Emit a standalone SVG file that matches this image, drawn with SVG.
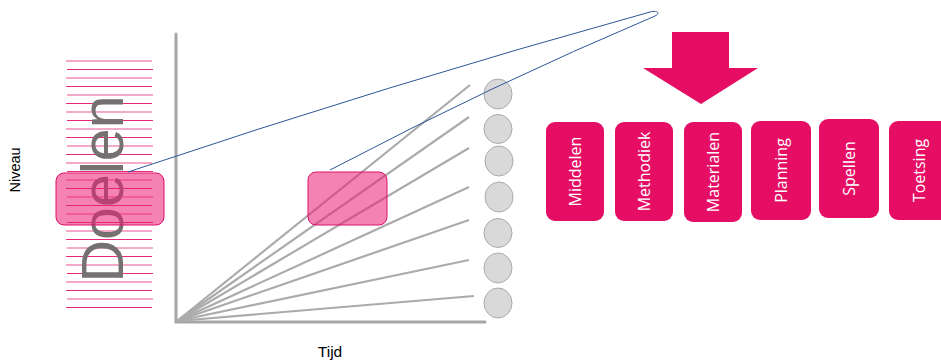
<svg xmlns="http://www.w3.org/2000/svg" width="941" height="364" viewBox="0 0 941 364">
<style>
.stL{stroke:#F28DB8;stroke-width:1.4}
.stD{stroke:#E8287A;stroke-width:1.2}
.axis{stroke:#A6A6A6;stroke-width:3;fill:none;stroke-linecap:round}
.fan{stroke:#ABABAB;stroke-width:2.2}
.dot{fill:#D9D9D9;stroke:#ABABAB;stroke-width:1}
.hl{fill:#EB1E74;fill-opacity:0.55;stroke:#E0106A;stroke-width:1}
.card{fill:#E60D64}
.cardt{font-family:'Open Sans',sans-serif;font-size:16px;fill:#FFFFFF;text-anchor:middle}
.lbl{font-family:'Liberation Sans',Arial,sans-serif;fill:#000000;text-anchor:middle}
</style>
<rect width="941" height="364" fill="#FFFFFF"/>
<g id="stripes">
<line class="stL" x1="66" y1="61" x2="152" y2="61"/>
<line class="stD" x1="67" y1="69.5" x2="153" y2="69.5"/>
<line class="stL" x1="66" y1="78" x2="152" y2="78"/>
<line class="stD" x1="66" y1="86.5" x2="152" y2="86.5"/>
<line class="stL" x1="67" y1="95" x2="153" y2="95"/>
<line class="stD" x1="66" y1="103.5" x2="152" y2="103.5"/>
<line class="stL" x1="66" y1="112" x2="152" y2="112"/>
<line class="stD" x1="67" y1="120.5" x2="153" y2="120.5"/>
<line class="stL" x1="66" y1="129" x2="152" y2="129"/>
<line class="stD" x1="66" y1="137.5" x2="152" y2="137.5"/>
<line class="stL" x1="67" y1="146" x2="153" y2="146"/>
<line class="stD" x1="66" y1="154.5" x2="152" y2="154.5"/>
<line class="stL" x1="66" y1="163" x2="152" y2="163"/>
<line class="stD" x1="67" y1="171.5" x2="153" y2="171.5"/>
<line class="stL" x1="66" y1="180" x2="152" y2="180"/>
<line class="stD" x1="66" y1="188.5" x2="152" y2="188.5"/>
<line class="stL" x1="67" y1="197" x2="153" y2="197"/>
<line class="stD" x1="66" y1="205.5" x2="152" y2="205.5"/>
<line class="stL" x1="66" y1="214" x2="152" y2="214"/>
<line class="stD" x1="67" y1="222.5" x2="153" y2="222.5"/>
<line class="stL" x1="66" y1="231" x2="152" y2="231"/>
<line class="stD" x1="66" y1="239.5" x2="152" y2="239.5"/>
<line class="stL" x1="67" y1="248" x2="153" y2="248"/>
<line class="stD" x1="66" y1="256.5" x2="152" y2="256.5"/>
<line class="stL" x1="66" y1="265" x2="152" y2="265"/>
<line class="stD" x1="67" y1="273.5" x2="153" y2="273.5"/>
<line class="stL" x1="66" y1="282" x2="152" y2="282"/>
<line class="stD" x1="66" y1="290.5" x2="152" y2="290.5"/>
<line class="stL" x1="67" y1="299" x2="153" y2="299"/>
<line class="stD" x1="66" y1="307.5" x2="152" y2="307.5"/>
</g>
<g id="doelen">
<text transform="translate(123,189) rotate(-90)" text-anchor="middle" font-family="'Liberation Sans',Arial,sans-serif" font-size="59" fill="#767171">Doelen</text>
</g>
<g id="niveau">
<text class="lbl" transform="translate(20,170) rotate(-90)" font-size="14.5">Niveau</text>
</g>
<g id="tijd">
<text class="lbl" x="330" y="357" font-size="15.5">Tijd</text>
</g>
<g id="axes">
<polyline class="axis" points="176,34 176,322 485,322"/>
</g>
<g id="fan">
<line class="fan" x1="177" y1="321" x2="470" y2="85"/>
<line class="fan" x1="177" y1="321" x2="469" y2="117"/>
<line class="fan" x1="177" y1="321" x2="469" y2="148"/>
<line class="fan" x1="177" y1="321" x2="469" y2="187"/>
<line class="fan" x1="177" y1="321" x2="469" y2="220"/>
<line class="fan" x1="177" y1="321" x2="469" y2="260"/>
<line class="fan" x1="177" y1="321" x2="474" y2="296"/>
</g>
<g id="dots">
<ellipse class="dot" cx="498" cy="94" rx="14" ry="15"/>
<ellipse class="dot" cx="498" cy="129" rx="14" ry="14.5"/>
<ellipse class="dot" cx="499" cy="161" rx="14" ry="15"/>
<ellipse class="dot" cx="499" cy="197" rx="14" ry="15"/>
<ellipse class="dot" cx="498" cy="233" rx="14" ry="14.5"/>
<ellipse class="dot" cx="498" cy="268" rx="14" ry="15"/>
<ellipse class="dot" cx="498" cy="303" rx="14" ry="15"/>
</g>
<g id="highlight-left">
<rect class="hl" x="56" y="173" width="108" height="52" rx="8"/>
</g>
<g id="highlight-mid">
<rect class="hl" x="308" y="172" width="79" height="53" rx="8"/>
</g>
<g id="connectors">
<path d="M128,172 Q390,84 650,12 C657,10 661,13 655,16 Q492,85 330,170" fill="none" stroke="#2F5597" stroke-width="1"/>
</g>
<g id="arrow">
<polygon points="672,32 729,32 729,68 758,68 701,104 643,68 672,68" fill="#E60D64"/>
</g>
<g id="middelen">
<rect class="card" x="546" y="122" width="58" height="99" rx="9"/>
<text class="cardt" transform="translate(581,171.5) rotate(-90)">Middelen</text>
</g>
<g id="methodiek">
<rect class="card" x="615" y="122" width="58" height="99" rx="9"/>
<text class="cardt" transform="translate(650,171.5) rotate(-90)">Methodiek</text>
</g>
<g id="materialen">
<rect class="card" x="684" y="122" width="58" height="100" rx="9"/>
<text class="cardt" transform="translate(719,172) rotate(-90)">Materialen</text>
</g>
<g id="planning">
<rect class="card" x="751" y="121" width="60" height="99" rx="9"/>
<text class="cardt" transform="translate(787,170.5) rotate(-90)">Planning</text>
</g>
<g id="spellen">
<rect class="card" x="819" y="119" width="60" height="99" rx="9"/>
<text class="cardt" transform="translate(855,168.5) rotate(-90)">Spellen</text>
</g>
<g id="toetsing">
<rect class="card" x="889" y="121" width="60" height="99" rx="9"/>
<text class="cardt" transform="translate(925,170.5) rotate(-90)">Toetsing</text>
</g>
</svg>
